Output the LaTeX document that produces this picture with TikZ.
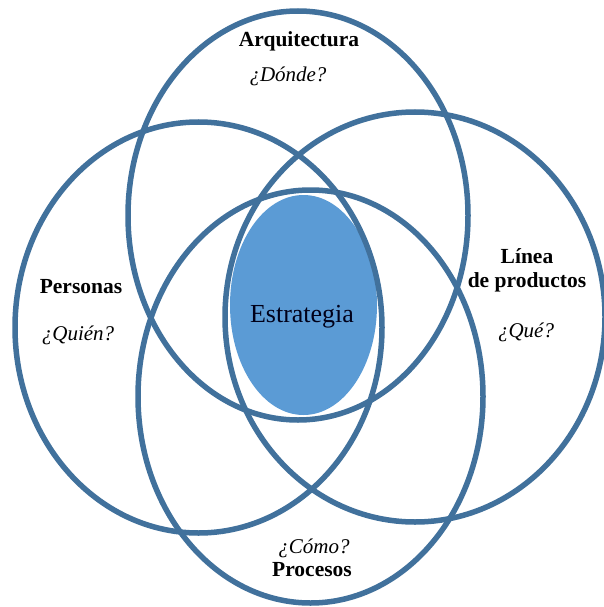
\documentclass[tikz,border=0pt]{standalone}
\usepackage{fontspec}
\setmainfont{Liberation Serif}
\definecolor{ringblue}{HTML}{41719C}
\definecolor{coreblue}{HTML}{5B9BD5}
\begin{document}
\begin{tikzpicture}[x=1pt,y=-1pt,
  ring/.style={draw=ringblue,line width=5.5pt},
  title/.style={font=\fontsize{21.5}{24}\selectfont\bfseries,anchor=base,inner sep=0pt},
  question/.style={font=\fontsize{21}{24}\selectfont\itshape,anchor=base,inner sep=0pt}]
\useasboundingbox (0,0) rectangle (604,607);
\fill[white] (0,0) rectangle (604,607);
% central strategy core
\fill[coreblue] (303.5,305) ellipse [x radius=73.5pt, y radius=110pt];
% four overlapping domains
\draw[ring] (298,215.5) ellipse [x radius=170pt, y radius=204.5pt];
\draw[ring] (198.5,327.5) ellipse [x radius=183.5pt, y radius=205.5pt];
\draw[ring] (415,317) ellipse [x radius=190pt, y radius=205pt];
\draw[ring] (310.5,396.5) ellipse [x radius=172.5pt, y radius=206.5pt];
% labels
\node[title] (arq) at (299,47) {Arquitectura};
\node[question] (donde) at (288,82) {¿Dónde?};
\node[title] (per) at (81,293) {Personas};
\node[question] (quien) at (78,340) {¿Quién?};
\node[title] (lin) at (527,263) {Línea};
\node[title] (prod) at (527,287) {de productos};
\node[question] (que) at (526,337) {¿Qué?};
\node[question] (como) at (314,553) {¿Cómo?};
\node[title] (proc) at (312,576) {Procesos};
\node[font=\fontsize{26}{28}\selectfont,anchor=base,inner sep=0pt,text=black!90!blue] (est) at (302,322) {Estrategia};
\end{tikzpicture}
\end{document}
